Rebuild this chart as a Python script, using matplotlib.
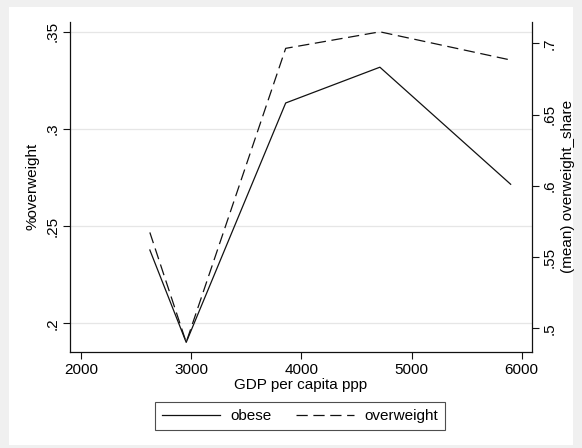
import matplotlib
matplotlib.use("Agg")
import matplotlib.pyplot as plt
from matplotlib.patches import Rectangle
from matplotlib.ticker import FuncFormatter

plt.rcParams['font.family'] = ['Liberation Sans', 'DejaVu Sans']

# GDP per capita (ppp) and the two shares
gdp = [2625, 2955, 3858, 4713, 5900]
obese = [0.2377, 0.1902, 0.3133, 0.3317, 0.2715]
overweight_share = [0.5673, 0.4902, 0.6965, 0.7081, 0.6883]

x_ticks = [2000, 3000, 4000, 5000, 6000]
left_ticks = [0.2, 0.25, 0.3, 0.35]
right_ticks = [0.5, 0.55, 0.6, 0.65, 0.7]


def stata_fmt(v, _pos=None):
    s = f"{v:.2f}".rstrip('0').rstrip('.')
    if s.startswith('0.'):
        s = s[1:]
    return s


W, H = 582, 448
fig = plt.figure(figsize=(W / 100, H / 100), dpi=100, facecolor='#f0f0f0')
fig.patches.append(Rectangle((9 / W, 3 / H), 564 / W, 438 / H,
                             transform=fig.transFigure, facecolor='white',
                             edgecolor='none', zorder=-10))

left, right, top, bottom = 70.3, 531.7, 21.7, 351.7
ax = fig.add_axes([left / W, 1 - bottom / H, (right - left) / W, (bottom - top) / H])
ax2 = ax.twinx()

fs = 11
line_kw = dict(color='#111111', lw=0.9)
l1, = ax.plot(gdp, obese, ls='-', label='obese', **line_kw)
l2, = ax2.plot(gdp, overweight_share, ls=(0, (9, 4.5)), label='overweight', **line_kw)

ax.set_xlim(1903, 6091)
ax.set_ylim(0.1854, 0.3551)
ax2.set_ylim(0.4836, 0.7152)

ax.set_xticks(x_ticks)
ax.set_yticks(left_ticks)
ax2.set_yticks(right_ticks)
ax.yaxis.set_major_formatter(FuncFormatter(stata_fmt))
ax2.yaxis.set_major_formatter(FuncFormatter(stata_fmt))

ax.grid(axis='y', color='#e6e6e6', lw=0.9)
ax.set_axisbelow(True)

for a in (ax, ax2):
    a.spines['top'].set_visible(False)
    for sp in a.spines.values():
        sp.set_linewidth(0.9)
        sp.set_color('#111111')
    a.tick_params(direction='out', length=5, width=0.8, color='#111111',
                  labelsize=fs, pad=3)
ax2.spines['left'].set_visible(False)
ax.spines['right'].set_visible(False)
ax2.spines['bottom'].set_visible(False)

for lab in ax.get_yticklabels():
    lab.set_rotation(90)
    lab.set_va('center')
for lab in ax2.get_yticklabels():
    lab.set_rotation(90)
    lab.set_va('center')

ax.set_xlabel('GDP per capita ppp', fontsize=fs, labelpad=1)
ax.set_ylabel('%overweight', fontsize=fs, labelpad=4)
ax2.set_ylabel('(mean) overweight_share', fontsize=fs, labelpad=3)

leg = fig.legend(handles=[l1, l2], loc='center', bbox_to_anchor=(300 / W, 1 - 416 / H),
                 ncol=2, fontsize=fs, frameon=True, fancybox=False,
                 handlelength=3.8, handletextpad=0.7, columnspacing=1.6,
                 borderpad=0.45, borderaxespad=0)
leg.get_frame().set_edgecolor('#222222')
leg.get_frame().set_linewidth(0.8)

fig.savefig('out.png', dpi=100, facecolor=fig.get_facecolor())
